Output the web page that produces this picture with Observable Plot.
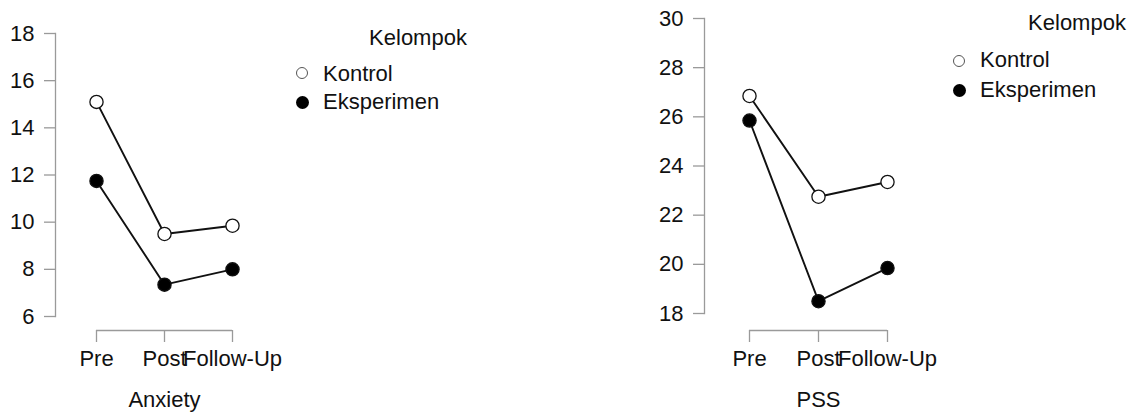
<!DOCTYPE html>
<html>
<head>
<meta charset="utf-8">
<script src="https://cdn.jsdelivr.net/npm/d3@7"></script>
<script src="https://cdn.jsdelivr.net/npm/@observablehq/plot@0.6"></script>
<style>
  html, body { margin: 0; padding: 0; background: #fff; }
  #wrap { position: relative; width: 1135px; height: 412px; overflow: hidden; font-family: "Liberation Sans", Arial, sans-serif; color: #111; }
  .panel { position: absolute; top: 0; }
  .lg { position: absolute; font-size: 22px; line-height: 22px; white-space: nowrap; }
  .sw { position: absolute; border-radius: 50%; box-sizing: border-box; }
  .sw.open { background: #fff; border: 1.5px solid #555; }
  .sw.fill { background: #000; }
</style>
</head>
<body>
<div id="wrap"></div>
<script>
// ---- data ----
const times = ["Pre", "Post", "Follow-Up"];
const groups = ["Kontrol", "Eksperimen"];
const legendTitle = "Kelompok";

const anxietyKontrol    = [15.1, 9.5, 9.85];
const anxietyEksperimen = [11.75, 7.35, 8.0];
const anxietyTicks      = [6, 8, 10, 12, 14, 16, 18];

const pssKontrol    = [26.85, 22.75, 23.35];
const pssEksperimen = [25.85, 18.5, 19.85];
const pssTicks      = [18, 20, 22, 24, 26, 28, 30];

function rows(kontrol, eksperimen) {
  const out = [];
  times.forEach((t, i) => out.push({time: t, group: groups[0], value: kontrol[i]}));
  times.forEach((t, i) => out.push({time: t, group: groups[1], value: eksperimen[i]}));
  return out;
}

function panel({data, ticks, title, width, marginLeft, marginRight, marginTop, marginBottom, padding, axisDy, titleDy}) {
  return Plot.plot({
    width, height: 412,
    marginLeft, marginRight, marginTop, marginBottom,
    style: {fontFamily: '"Liberation Sans", Arial, sans-serif', fontSize: "22px", background: "transparent", overflow: "visible", color: "#111"},
    x: {type: "point", domain: times, padding},
    y: {domain: [ticks[0], ticks[ticks.length - 1]]},
    color: {type: "ordinal", domain: groups, range: ["white", "black"]},
    marks: [
      Plot.frame({anchor: "left", stroke: "#9a9a9a", strokeWidth: 1.3}),
      Plot.axisY(ticks, {tickSize: 11, tickPadding: 10, stroke: "#9a9a9a", strokeWidth: 1.3, fill: "#111", label: null}),
      Plot.ruleY([ticks[0]], {x1: () => times[0], x2: () => times[times.length - 1], dy: axisDy, stroke: "#9a9a9a", strokeWidth: 1.3}),
      Plot.axisX({tickSize: 12, tickPadding: 8, dy: axisDy, stroke: "#9a9a9a", strokeWidth: 1.3, fill: "#111", label: null}),
      Plot.text([title], {frameAnchor: "bottom", dy: titleDy, lineAnchor: "top", fill: "#111", fontSize: 22}),
      Plot.line(data, {x: "time", y: "value", z: "group", stroke: "#111", strokeWidth: 1.9}),
      Plot.dot(data, {x: "time", y: "value", fill: "group", stroke: "#111", strokeWidth: 1.3, r: 6.6})
    ]
  });
}

const wrap = document.getElementById("wrap");

const left = panel({
  data: rows(anxietyKontrol, anxietyEksperimen), ticks: anxietyTicks, title: "Anxiety",
  width: 290, marginLeft: 55, marginRight: 17, marginTop: 33, marginBottom: 96,
  padding: 0.6, axisDy: 14, titleDy: 75
});
left.classList.add("panel");
left.style.left = "0px";
wrap.appendChild(left);

const right = panel({
  data: rows(pssKontrol, pssEksperimen), ticks: pssTicks, title: "PSS",
  width: 300, marginLeft: 64, marginRight: 8, marginTop: 18, marginBottom: 99,
  padding: 0.63, axisDy: 17, titleDy: 78
});
right.classList.add("panel");
right.style.left = "640px";
wrap.appendChild(right);

function legend(titleCenter, titleTop, swX, textX, rowTops, swYs) {
  const t = document.createElement("div");
  t.className = "lg";
  t.textContent = legendTitle;
  t.style.top = titleTop + "px";
  t.style.left = (titleCenter - 100) + "px";
  t.style.width = "200px";
  t.style.textAlign = "center";
  wrap.appendChild(t);
  groups.forEach((g, i) => {
    const s = document.createElement("div");
    s.className = "sw " + (i === 0 ? "open" : "fill");
    const r = i === 0 ? 6 : 6.5;
    s.style.width = s.style.height = (2 * r) + "px";
    s.style.left = (swX - r) + "px";
    s.style.top = (swYs[i] - r) + "px";
    wrap.appendChild(s);
    const l = document.createElement("div");
    l.className = "lg";
    l.textContent = g;
    l.style.left = textX + "px";
    l.style.top = rowTops[i] + "px";
    wrap.appendChild(l);
  });
}
legend(418, 27, 302, 323, [63, 91], [73, 102]);
legend(1077, 12, 959, 980, [49, 79], [61, 90]);
</script>
</body>
</html>
